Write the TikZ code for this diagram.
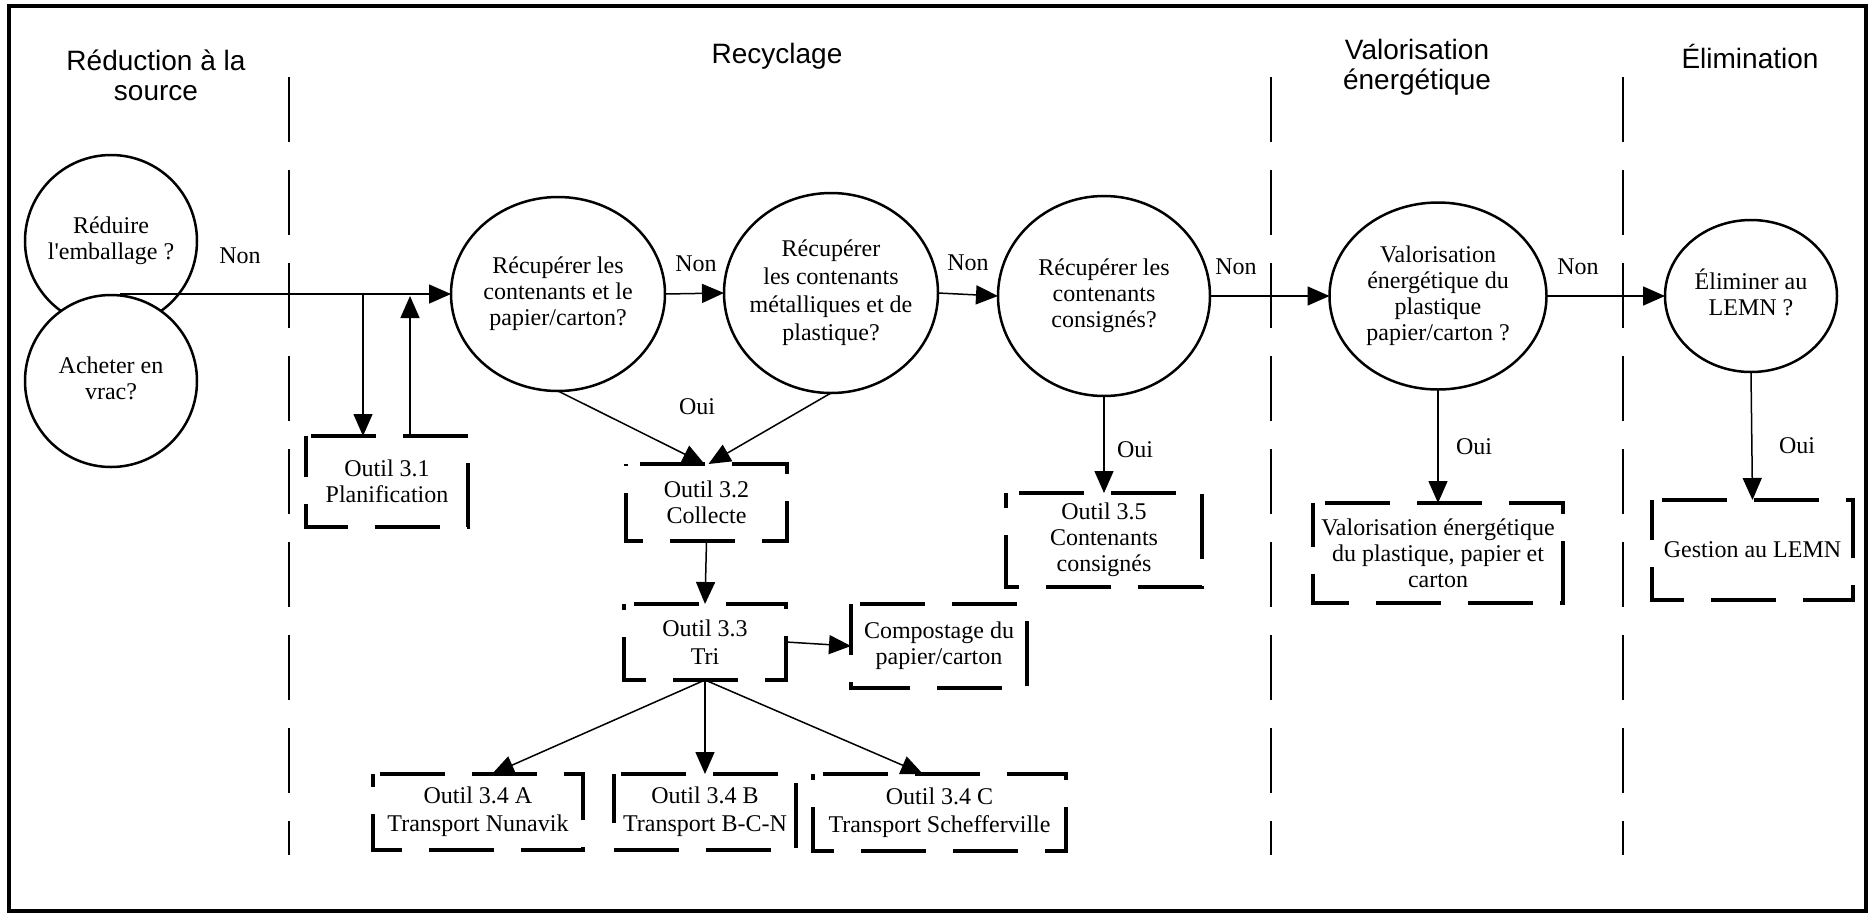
\documentclass[tikz,border=0pt]{standalone}
\usepackage{fontspec}
\setmainfont{Liberation Serif}
\newfontfamily\headfont{Liberation Sans}
\usetikzlibrary{shapes.geometric,arrows.meta,calc}
\newcommand{\qtext}[1]{\makebox[0pt]{\begin{tabular}{@{}c@{}}#1\end{tabular}}}
\newcommand{\toolframe}[2]{\draw[tooldash, dash phase=#2] (#1.north west) -- (#1.south west) -- (#1.south east) -- (#1.north east) -- cycle;}
\begin{document}
\begin{tikzpicture}[x=0.5pt,y=-0.5pt,
  every node/.style={inner sep=0pt, outer sep=0pt},
  bodytxt/.style={font=\fontsize{12pt}{13pt}\selectfont},
  head/.style={font=\headfont\fontsize{14pt}{15pt}\selectfont, align=center},
  question/.style={ellipse, draw, line width=1.25pt, bodytxt},
  toolbox/.style={rectangle, bodytxt, align=center},
  widebox/.style={toolbox, font=\fontsize{12pt}{14pt}\selectfont},
  tooldash/.style={line width=1.6pt, dash pattern=on 32.5pt off 13.5pt},
  divider/.style={line width=0.9pt, dash pattern=on 32.5pt off 14pt},
  conn/.style={line width=0.75pt, -{Triangle[length=11pt,width=9.5pt]}},
  lbl/.style={bodytxt},
]
\useasboundingbox (0,0) rectangle (1875,917);
\draw[line width=1.8pt] (9,6) rectangle (1866,911);

% column dividers
\draw[divider] (289,77) -- (289,855);
\draw[divider] (1271,77) -- (1271,855);
\draw[divider] (1623,77) -- (1623,855);

% headers
\node[head] (h1) at (156,75) {Réduction à la\\source};
\node[head] (h2) at (777,56) {Recyclage};
\node[head] (h3) at (1417,67) {Valorisation\\énergétique};
\node[head] (h4) at (1750,56) {Élimination};

% questions
\node[question, minimum width=86pt, minimum height=86pt] (reduire) at (111,241) {\qtext{Réduire\\l\textquotesingle emballage ?}};
\node[question, fill=white, minimum width=86pt, minimum height=86pt] (acheter) at (111,381) {\qtext{Acheter en\\vrac?}};
\node[question, minimum width=107pt, minimum height=97pt] (r1) at (558,294) {\qtext{Récupérer les\\contenants et le\\papier/carton?}};
\node[question, minimum width=107pt, minimum height=100pt] (r2) at (831,293) {\raisebox{2pt}{\fontsize{12pt}{14pt}\selectfont\qtext{Récupérer\\les contenants\\métalliques et de\\plastique?}}};
\node[question, minimum width=106pt, minimum height=100pt] (r3) at (1104,296) {\qtext{Récupérer les\\contenants\\consignés?}};
\node[question, minimum width=108.5pt, minimum height=93.5pt] (val) at (1438,296) {\qtext{Valorisation\\énergétique du\\plastique\\papier/carton ?}};
\node[question, minimum width=86pt, minimum height=76pt] (elim) at (1751,296) {\qtext{Éliminer au\\LEMN ?}};

% tool boxes
\node[toolbox, minimum width=81pt, minimum height=45.5pt] (c31) at (387,481.5) {Outil 3.1\\Planification};
\node[toolbox, minimum width=80.5pt, minimum height=38.5pt] (c32) at (706.5,502.5) {Outil 3.2\\Collecte};
\node[widebox, minimum width=81pt, minimum height=38pt] (c33) at (705,642) {Outil 3.3\\Tri};
\node[toolbox, minimum width=88pt, minimum height=42pt] (comp) at (939,646) {Compostage du\\papier/carton};
\node[toolbox, minimum width=98pt, minimum height=47pt] (c35) at (1104,540) {Outil 3.5\\Contenants\\consignés};
\node[widebox, minimum width=105pt, minimum height=38pt] (c34a) at (478,812) {Outil 3.4 A\\Transport Nunavik};
\node[widebox, minimum width=91pt, minimum height=38pt] (c34b) at (705,812) {Outil 3.4 B\\Transport B-C-N};
\node[widebox, minimum width=126.5pt, minimum height=38.5pt] (c34c) at (939.5,812.5) {Outil 3.4 C\\Transport Schefferville};
\node[toolbox, minimum width=125pt, minimum height=50pt] (valbox) at (1438,553) {Valorisation énergétique\\du plastique, papier et\\carton};
\node[toolbox, minimum width=100.5pt, minimum height=50pt] (gest) at (1752.5,550) {Gestion au LEMN};

\toolframe{c31}{12pt}
\toolframe{c32}{31.5pt}
\toolframe{c33}{29.5pt}
\toolframe{comp}{7pt}
\toolframe{c35}{25pt}
\toolframe{c34a}{26pt}
\toolframe{c34b}{8pt}
\toolframe{c34c}{29.5pt}
\toolframe{valbox}{10.5pt}
\toolframe{gest}{12.5pt}

% labels
\node[lbl] (non1) at (240,256) {Non};
\node[lbl] (non2) at (696,264) {Non};
\node[lbl] (non3) at (968,263) {Non};
\node[lbl] (non4) at (1236,267) {Non};
\node[lbl] (non5) at (1578,267) {Non};
\node[lbl] (oui1) at (697,407) {Oui};
\node[lbl] (oui2) at (1135,450) {Oui};
\node[lbl] (oui3) at (1474,447) {Oui};
\node[lbl] (oui4) at (1797,446) {Oui};

% connectors
\coordinate (start) at (120,294);
\coordinate (split) at (363,294);
\coordinate (join) at (410,296);
\draw[conn] (start) -- (r1.west);
\draw[conn] (split) -- (split |- c31.north);
\draw[conn] (join |- c31.north) -- (join);
\draw[conn] (r1.east) -- (r2.west);
\draw[conn] (r2.east) -- (r3.west);
\draw[conn] (r3.east) -- (val.west);
\draw[conn] (val.east) -- (elim.west);
\draw[conn] (r1.south) -- ([xshift=-1pt]c32.north);
\draw[conn] (r2.south) -- ([xshift=1pt]c32.north);
\draw[conn] (c32.south) -- (c33.north);
\draw[conn] (c33.east) -- (comp.west);
\draw[conn] (c33.south) -- ([xshift=7pt]c34a.north);
\draw[conn] (c33.south) -- (c34b.north);
\draw[conn] (c33.south) -- ([xshift=-8.25pt]c34c.north);
\draw[conn] (r3.south) -- (c35.north);
\draw[conn] (val.south) -- (valbox.north);
\draw[conn] (elim.south) -- (gest.north);
\end{tikzpicture}
\end{document}
